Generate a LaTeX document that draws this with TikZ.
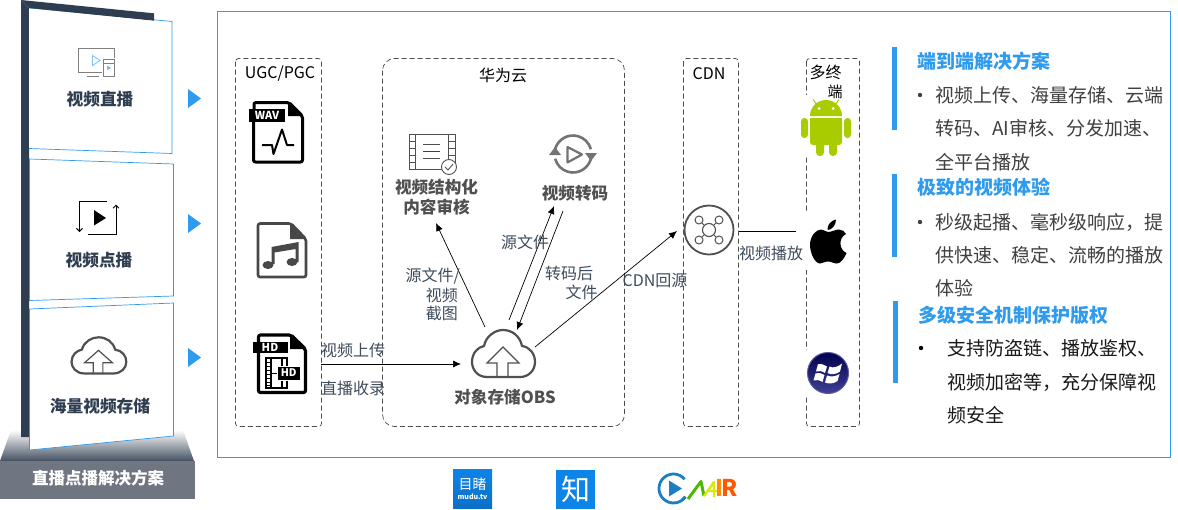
\documentclass[tikz,border=0pt]{standalone}
\usepackage{fontspec}
\setmainfont{Noto Sans CJK SC}
\usetikzlibrary{arrows.meta,calc}
\definecolor{frameblue}{HTML}{2F9BEE}
\definecolor{darkbar}{HTML}{2F3D50}
\definecolor{basegray}{HTML}{6F7682}
\definecolor{labelc}{HTML}{3F4C5C}
\definecolor{bodyc}{HTML}{404040}
\definecolor{iconc}{HTML}{505050}
\definecolor{droid}{HTML}{A9CC00}
\definecolor{logoblue}{HTML}{0D84E8}
\definecolor{mirblue}{HTML}{1B7FC2}
\newcommand{\fs}[1]{\fontsize{#1}{#1}\selectfont}
\tikzset{
  x=1pt,y=-1pt,
  panel/.style={draw=frameblue,line width=.7pt,fill=white},
  dbox/.style={draw=black!70,dash pattern=on 5pt off 3pt,line width=.7pt},
  tri/.style={fill=frameblue},
  bar/.style={fill=frameblue},
  lbl/.style={inner sep=0pt,text=labelc,font=\fs{16}},
  ttl/.style={inner sep=0pt,text=black,font=\fs{16}},
  iname/.style={inner sep=0pt,text=darkbar,font=\fs{16.7}\bfseries},
  icap/.style={inner sep=0pt,text=iconc,font=\fs{16.6}\bfseries},
  head/.style={inner sep=0pt,anchor=west,text=frameblue,font=\fs{19}\bfseries},
  body/.style={inner sep=0pt,anchor=west,align=left,text=bodyc,font=\fontsize{19}{33.3}\selectfont},
  ghost/.style={inner sep=0pt,minimum width=#1},
  conn/.style={draw=black,line width=.7pt},
  arr/.style={conn,-{Latex[length=8pt,width=7pt]}},
  wipe/.style={fill=white,draw=none},
  pics/cloudicon/.style={code={
    \draw[iconc,line width=2.2pt,line join=round]
      (-16,24) .. controls (-26,24) and (-31,16) .. (-31,9)
      .. controls (-31,0) and (-25,-6) .. (-19,-7)
      .. controls (-17,-17) and (-8,-23) .. (0,-23)
      .. controls (9,-23) and (17,-17) .. (19,-7)
      .. controls (27,-6) and (32,1) .. (32,9)
      .. controls (32,17) and (26,24) .. (17,24) -- cycle;
    \draw[iconc,line width=1.2pt,line join=miter]
      (-6,24) -- (-6,10) -- (-16,10) -- (0,-6) -- (16,10) -- (5,10) -- (5,24);
  }}
}
\begin{document}
\begin{tikzpicture}
\useasboundingbox (0,0) rectangle (1178,509);
\fill[white] (0,0) rectangle (1178,509);

% ---------- left stand ----------
\shade[top color=white,bottom color=darkbar!90] (11,430) -- (183,430) -- (194,461) -- (0,461) -- cycle;
\fill[basegray] (0,461) rectangle (195,499);
\fill[darkbar] (21,0) -- (29,8) -- (29,437) -- (21,437) -- cycle;
\path[panel] (29,8) -- (172,21.5) -- (172,153.5) -- (29,148.5);
\path[panel] (29.5,159) -- (173.5,164) -- (173.5,296) -- (29.5,300.5) -- cycle;
\path[panel] (29.5,309) -- (173.5,303) -- (173.5,436) -- (29.5,450) -- cycle;
\fill[darkbar] (21,0) -- (154,13.3) -- (154,20.7) -- (29,8) -- cycle;
\fill[white] (30,9) -- (153,21) -- (153,22) -- (30,22) -- cycle;

\node[iname] (live) at (100,99) {视频直播};
\node[iname] (vod) at (99,260) {视频点播};
\node[iname] (store) at (100,406) {海量视频存储};
\node[inner sep=0pt,text=white,font=\fs{16.5}\bfseries] (solution) at (98,478) {直播点播解决方案};

\fill[tri] (188,89) -- (201,98.5) -- (188,108) -- cycle;
\fill[tri] (188,214) -- (201,223.5) -- (188,233) -- cycle;
\fill[tri] (188,348) -- (201,357.5) -- (188,367) -- cycle;

% monitor icon
\draw[gray,line width=1pt] (102,72) -- (78,72) -- (78,48) -- (114,48) -- (114,58);
\draw[gray,line width=1pt] (87,76.5) -- (99,76.5);
\draw[gray,line width=1pt] (103,59.5) rectangle (114,76.5);
\draw[gray,line width=.7pt] (103,63) -- (114,63);
\draw[frameblue!60,line width=.9pt] (92.5,55.5) -- (100,60.5) -- (92.5,65.5) -- cycle;
\fill[frameblue!70] (107,65.5) -- (111,68) -- (107,70) -- cycle;
% vod icon
\draw[black,line width=1pt,-{Straight Barb[length=3pt,width=6pt]}] (107,201) -- (79.5,201) -- (79.5,232);
\draw[black,line width=1pt,-{Straight Barb[length=3pt,width=6pt]}] (88,234) -- (116,234) -- (116,204.5);
\fill[black] (94,210) -- (106,218) -- (94,225.5) -- cycle;
% cloud icon
\pic[xscale=.87,yscale=.77] at (98.5,355) {cloudicon};

% ---------- main frame ----------
\draw[frameblue,line width=.7pt] (217.5,11.5) rectangle (1170.5,457);

% ---------- dashed groups ----------
\draw[dbox,rounded corners=3pt] (235.5,58.5) rectangle (321.5,426.5);
\draw[dbox,rounded corners=12pt] (382.5,58.5) rectangle (624.5,426.5);
\draw[dbox,rounded corners=3pt] (683.5,58.5) rectangle (738.5,426.5);
\draw[dbox,rounded corners=3pt] (806.5,58.5) rectangle (859.5,426.5);

\node[ttl] (ugc) at (280,74) {UGC/PGC};
\node[ttl] (hw) at (503,75) {华为云};
\node[ttl] (cdnt) at (709,74) {CDN};
\node[ttl] (multi) at (825.5,72) {多终};
\node[ttl,font=\fs{15}] (multib) at (835,92) {端};

% WAV file
\draw[black,line width=3pt,line join=round,rounded corners=2pt] (254,110) -- (254,102.5) -- (289,102.5) -- (302.5,116) -- (302.5,162) -- (253.5,162) -- (253.5,120);
\fill[black] (288,102) -- (288,116) -- (303,116) -- cycle;
\fill[black] (249,108.5) rectangle (285,121.5);
\node[inner sep=0pt,text=white,font=\fs{11}\bfseries] (wavt) at (267,115) {WAV};
\draw[black,line width=2pt,line join=round] (262,145) -- (272,145) -- (273.5,154) -- (282,129.5) -- (287,145) -- (294,145);
% music file
\draw[iconc!90!black,line width=2.6pt,line join=round,rounded corners=2pt] (258,223.5) -- (291,223.5) -- (306,239) -- (306,277) -- (258,277) -- cycle;
\fill[iconc!90!black] (290,223) -- (290,239) -- (306,239) -- cycle;
\fill[iconc!90!black] (268,265) ellipse[x radius=5.5,y radius=4];
\fill[iconc!90!black] (292,262) ellipse[x radius=5.5,y radius=4];
\fill[iconc!90!black] (271.5,264) -- (271.5,247) -- (298.5,242) -- (298.5,262) -- (295.5,262) -- (295.5,249) -- (274.5,252.5) -- (274.5,264) -- cycle;
% HD file
\draw[black,line width=3.2pt,line join=round,rounded corners=2pt] (258.5,335) -- (291,335) -- (305.5,349) -- (305.5,392.5) -- (258.5,392.5) -- cycle;
\fill[black] (290,334) -- (290,349) -- (306,349) -- cycle;
\fill[black] (253,341.5) rectangle (288,353);
\node[inner sep=0pt,text=white,font=\fs{11}\bfseries] (hdt) at (270,347) {HD};
\draw[black,line width=1.1pt] (266,358) rectangle (287,388);
\draw[black,line width=1.1pt] (271,358) -- (271,388) (282,358) -- (282,388);
\foreach \yy in {362,366,370,374,378,382,385}{\draw[black,line width=.8pt] (266,\yy) -- (271,\yy);}
\draw[black,line width=1pt] (271,373) -- (278,373);
\fill[white] (276.5,365.5) rectangle (301,381);
\fill[black] (278,367) rectangle (299.5,379.5);
\node[inner sep=0pt,text=white,font=\fs{10.5}\bfseries] (hdb) at (288.7,373) {HD};

% structure icon
\draw[iconc,line width=.9pt] (409,134.5) rectangle (455,169);
\draw[iconc,line width=.9pt] (415.5,134.5) -- (415.5,169) (448.5,134.5) -- (448.5,169);
\foreach \yy in {141,148,155,162}{\draw[iconc,line width=.9pt] (409,\yy) -- (415.5,\yy) (448.5,\yy) -- (455,\yy);}
\draw[iconc,line width=.9pt] (423,144.5) -- (440,144.5) (423,158) -- (440,158);
\draw[red!80!black,line width=.9pt] (423,151) -- (440,151);
\filldraw[draw=iconc,fill=white,line width=.9pt] (449,167) circle[radius=7.5];
\draw[iconc,line width=.9pt] (445,167) -- (448,170) -- (453,164);
% transcode icon
\draw[gray!90!black,line width=2.6pt] ([shift=(195:18.5)]573,154) arc[start angle=195,end angle=345,radius=18.5];
\draw[gray!90!black,line width=2.6pt] ([shift=(15:18.5)]573,154) arc[start angle=15,end angle=165,radius=18.5];
\fill[gray!90!black] (585,153) -- (597,153) -- (591,161) -- cycle;
\fill[gray!90!black] (549,155) -- (561,155) -- (555,147) -- cycle;
\draw[gray!90!black,line width=2.2pt,line join=round] (567.5,147) -- (582,154.5) -- (567.5,162.5) -- cycle;

\node[icap] (stru) at (436.5,187) {视频结构化};
\node[icap] (audit) at (436.5,207) {内容审核};
\node[icap] (trans) at (575,193) {视频转码};

% OBS
\node[ghost=66pt,minimum height=50pt] (obs) at (503,353) {};
\pic at (obs.center) {cloudicon};
\node[icap] (obst) at (505,397) {对象存储OBS};

% CDN icon
\node[draw=iconc,circle,line width=1.8pt,minimum size=49pt,inner sep=0pt] (cdn) at (709,230) {};
\draw[iconc,line width=1.1pt] (709,230) circle[radius=6.5];
\foreach \dx/\dy in {-10/-10,10/-10,-10/10,10/10}{
  \draw[iconc,line width=1pt] (709+\dx,230+\dy) circle[radius=4];
  \draw[iconc,line width=1pt] (709+.5*\dx,230+.5*\dy) -- (709+.7*\dx,230+.7*\dy);
}

% terminals (white backgrounds hide the dashed border)
\fill[wipe] (803,95) rectangle (812,157);
\fill[wipe] (797,213) rectangle (812,270);
\fill[wipe] (803,350) rectangle (812,396);
\node[ghost=50pt,minimum height=57pt] (android) at (826,127.5) {};
\node[ghost=36pt,minimum height=43pt] (apple) at (828,241.5) {};
\node[ghost=42pt,minimum height=42pt] (win) at (828,373) {};

% android
\fill[droid] (810,116) arc[start angle=180,end angle=360,radius=16] -- cycle;
\draw[droid,line width=1pt] (817,105) -- (813,99.5) (835,105) -- (839,99.5);
\fill[white] (819,108.5) circle[radius=1.5] (833,108.5) circle[radius=1.5];
\fill[droid,rounded corners=3pt] (810,118) -- (842,118) -- (842,145) -- (810,145) -- cycle;
\fill[droid] (810,118) rectangle (842,130);
\fill[droid,rounded corners=3.4pt] (801,118) rectangle (808,138);
\fill[droid,rounded corners=3.4pt] (844,118) rectangle (851,138);
\fill[droid,rounded corners=3.8pt] (816,138) rectangle (824,156);
\fill[droid,rounded corners=3.8pt] (829,138) rectangle (837,156);

% apple
\fill[black] (828,232) .. controls (832,232) and (835,229.5) .. (839,229.5)
  .. controls (842,229.5) and (845,231.5) .. (846,234)
  .. controls (838,238) and (839,250) .. (846.5,253)
  .. controls (845,257) and (841,263.5) .. (837,263.5)
  .. controls (833,263.5) and (832,261.5) .. (828,261.5)
  .. controls (824,261.5) and (823,263.5) .. (820,263.5)
  .. controls (815,263.5) and (810,253) .. (810,245)
  .. controls (810,236) and (816,229.5) .. (821,229.5)
  .. controls (824,229.5) and (826,232) .. (828,232) -- cycle;
\fill[black] (836,219.5) .. controls (836,225) and (832,230) .. (827.5,230) .. controls (827,225) and (831,220.5) .. (836,219.5) -- cycle;

% windows
\shade[top color=blue!30!black,bottom color=blue!45!black!75!white] (828,373) circle[radius=20.5];
\draw[gray!70!blue,line width=1pt] (828,373) circle[radius=20.5];
\fill[white] (818,364) .. controls (821,363.5) and (824,364.5) .. (827,366.5) -- (825,373) .. controls (822,371) and (819,370.5) .. (816,371.5) -- cycle;
\fill[white] (829.5,366.5) .. controls (833,368.5) and (838,367) .. (842,363.5) -- (840,371.5) .. controls (836,374.5) and (831,375) .. (827.5,373) -- cycle;
\fill[white] (815.5,373.5) .. controls (819,372.5) and (821.5,373) .. (824.5,375) -- (822.5,382) .. controls (819.5,380) and (816.5,379.5) .. (813.5,380.5) -- cycle;
\fill[white] (827,375.5) .. controls (831,377) and (836,376.5) .. (839.5,374) -- (837.5,381) .. controls (833,384) and (829,384) .. (825,382.5) -- cycle;

% ---------- connectors ----------
\coordinate (upstart) at (321,364);
\coordinate (cdnout) at (796,231);
\draw[arr] ([shift={(-18,-26)}]obs.center) -- ([shift={(-0.5,16)}]audit.center);
\draw[arr] ([shift={(6,-33)}]obs.center) -- ([shift={(-21,13)}]trans.center);
\draw[arr] ([shift={(-12,18)}]trans.center) -- ([shift={(14,-23)}]obs.center);
\draw[arr] ([shift={(32,-6)}]obs.center) -- ([shift={(-32,1)}]cdn.center);
\draw[arr] (upstart) -- ([shift={(-42,11)}]obs.center);
\draw[conn] (cdn.east) ++(5,1) coordinate (cdnstart) (cdnstart) -- (cdnout);

% ---------- connector labels ----------
\node[lbl] (l1) at (353,350) {视频上传};
\node[lbl] (l2) at (353,388) {直播收录};
\node[lbl] (l3) at (525,242) {源文件};
\node[lbl,anchor=east] (l4) at (460,276) {源文件/};
\node[lbl,anchor=east] (l5) at (458,295) {视频};
\node[lbl,anchor=east] (l6) at (458,313) {截图};
\node[lbl] (l7) at (569,273) {转码后};
\node[lbl] (l8) at (581.5,292) {文件};
\node[lbl] (l9) at (655,281) {CDN回源};
\node[lbl] (l10) at (771,253) {视频播放};

% ---------- right text ----------
\fill[bar] (892,47) rectangle (897,130);
\fill[bar] (892,174) rectangle (897,257);
\fill[bar] (893,301) rectangle (898,383);
\node[head] (h1) at (917,61) {端到端解决方案};
\node[head] (h2) at (917,187) {极致的视频体验};
\node[head] (h3) at (918,315) {多级安全机制保护版权};
\fill[bodyc] (920,95) circle[radius=2.2];
\fill[bodyc] (920,222) circle[radius=2.2];
\fill[black] (921,348) circle[radius=2.2];
\node[body] (b1) at (935,128.5) {视频上传、海量存储、云端\\转码、AI审核、分发加速、\\全平台播放};
\node[body] (b2) at (935,255) {秒级起播、毫秒级响应，提\\供快速、稳定、流畅的播放\\体验};
\node[body,text=black!90] (b3) at (947,382) {支持防盗链、播放鉴权、\\视频加密等，充分保障视\\频安全};

% ---------- logos ----------
\shade[top color=logoblue,bottom color=logoblue!85!black] (453,469) rectangle (492,508);
\node[inner sep=0pt,text=white,font=\fs{14}] (mudu) at (472.5,484) {目睹};
\node[inner sep=0pt,text=white,font=\fs{7}\bfseries] (mudut) at (472.5,497) {mudu.tv};
\fill[logoblue] (556,470) rectangle (595,509);
\node[inner sep=0pt,text=white,font=\fs{29}] (zhi) at (575.5,489) {知};
\draw[mirblue,line width=2.8pt] ([shift=(-40:14.5)]673.5,488.5) arc[start angle=-40,end angle=-325,radius=14.5];
\draw[mirblue,line width=2.8pt] ([shift=(35:14.5)]673.5,488.5) arc[start angle=35,end angle=55,radius=14.5];
\fill[mirblue] (669,480.5) -- (682,488.5) -- (669,496.5) -- cycle;
\draw[green!60!black!70!yellow,line width=3pt,line join=round] (688,499) -- (701,481.5) -- (704,496);
\draw[yellow!85!green,line width=2.4pt,line join=round] (704,496) -- (714,482) -- (714,497) (708,491) -- (717,491);
\node[inner sep=0pt,text=orange!90!yellow,font=\fs{23}\bfseries] (miri) at (719.5,488) {I};
\node[inner sep=0pt,text=orange!70!red,font=\fs{23}\bfseries] (mirr) at (730,488) {R};
\end{tikzpicture}
\end{document}
